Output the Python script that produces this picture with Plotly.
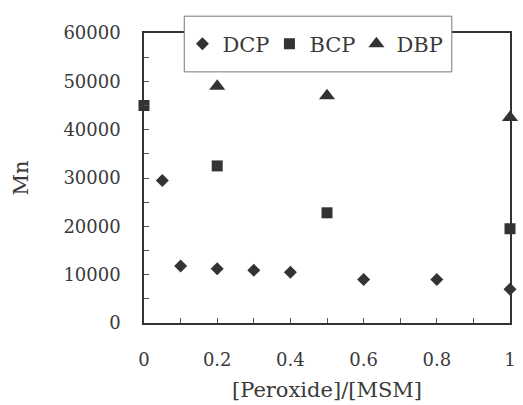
import plotly.graph_objects as go

dcp_x = [0.05, 0.1, 0.2, 0.3, 0.4, 0.6, 0.8, 1.0]
dcp_y = [29500, 11800, 11200, 10900, 10500, 9000, 9000, 7000]
bcp_x = [0.0, 0.2, 0.5, 1.0]
bcp_y = [45000, 32500, 22800, 19500]
dbp_x = [0.2, 0.5, 1.0]
dbp_y = [49000, 47000, 42500]

x_ticks = [0, 0.2, 0.4, 0.6, 0.8, 1]
x_labels = ["0", "0.2", "0.4", "0.6", "0.8", "1"]
y_ticks = [0, 10000, 20000, 30000, 40000, 50000, 60000]

mc = "#333333"
fig = go.Figure()
fig.add_trace(go.Scatter(x=dcp_x, y=dcp_y, mode="markers", name="DCP",
                         marker=dict(symbol="diamond", size=10, color=mc), cliponaxis=False))
fig.add_trace(go.Scatter(x=bcp_x, y=bcp_y, mode="markers", name="BCP",
                         marker=dict(symbol="square", size=11, color=mc), cliponaxis=False))
fig.add_trace(go.Scatter(x=dbp_x, y=dbp_y, mode="markers", name="DBP",
                         marker=dict(symbol="triangle-up", size=14, color=mc), cliponaxis=False))

font = "DejaVu Serif"
fig.update_layout(
    width=523, height=405,
    margin=dict(l=144, r=7, t=33, b=81),
    paper_bgcolor="white", plot_bgcolor="white",
    font=dict(family=font, size=18, color="#3a3a3a"),
    showlegend=True,
    legend=dict(orientation="h", x=0.105, y=0.962, xanchor="left", yanchor="middle",
                bgcolor="rgba(0,0,0,0)", borderwidth=0, entrywidth=42, entrywidthmode="pixels",
                font=dict(size=21), itemwidth=30, tracegroupgap=0),
    shapes=[dict(type="rect", xref="paper", yref="paper",
                 x0=0.110, x1=0.841, y0=0.866, y1=1.058,
                 fillcolor="white", line=dict(color="#777", width=1), layer="above")],
    xaxis=dict(range=[0, 1], tickvals=x_ticks, ticktext=x_labels,
               showline=True, linecolor="#333", linewidth=1.5, mirror=True,
               ticks="inside", ticklen=5, tickcolor="#555",
               minor=dict(ticks="inside", dtick=0.1, ticklen=5, tickcolor="#555"),
               showgrid=False, zeroline=False, ticklabelstandoff=20,
               title=dict(text="[Peroxide]/[MSM]", standoff=13, font=dict(size=21))),
    yaxis=dict(range=[0, 60000], tickvals=y_ticks, tickformat="d",
               showline=True, linecolor="#333", linewidth=1.5, mirror=True,
               ticks="inside", ticklen=5, tickcolor="#555",
               minor=dict(ticks="inside", dtick=5000, ticklen=5, tickcolor="#555"),
               showgrid=False, zeroline=False, ticklabelstandoff=18,
               title=dict(text="Mn", standoff=29, font=dict(size=21))),
)
fig.write_html("out.html", config={"displayModeBar": False},
               post_script="document.body.style.margin='0';document.body.style.overflow='hidden';")
